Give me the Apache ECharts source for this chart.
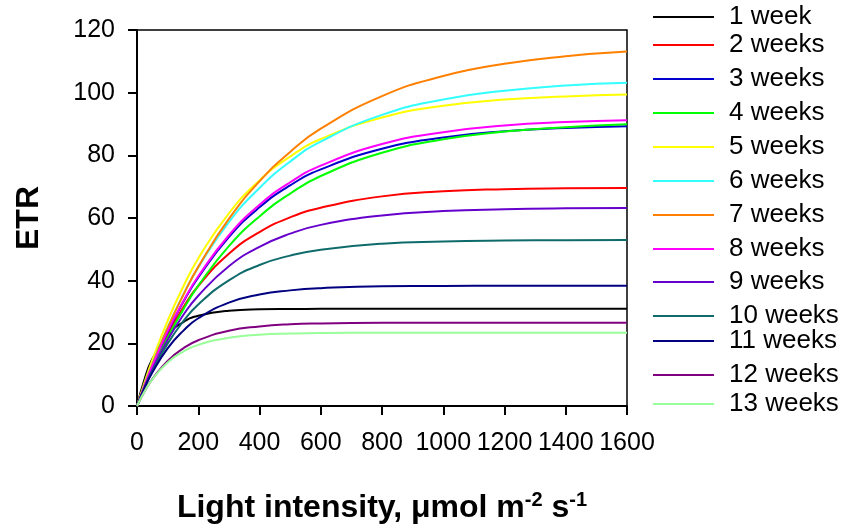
<!DOCTYPE html>
<html>
<head>
<meta charset="utf-8">
<script src="https://cdn.jsdelivr.net/npm/echarts@6/dist/echarts.min.js"></script>
<style>html,body{margin:0;padding:0;background:#fff;}#chart{width:844px;height:528px;}</style>
</head>
<body>
<div id="chart"></div>
<script>
// ---- data ----
const lightIntensity = [0, 25, 50, 100, 150, 200, 300, 400, 500, 600, 800, 1000, 1200, 1400, 1600];
const seriesNames = ['1 week','2 weeks','3 weeks','4 weeks','5 weeks','6 weeks','7 weeks','8 weeks','9 weeks','10 weeks','11 weeks','12 weeks','13 weeks'];
const etrWeek1  = [0, 8.7, 15.0, 22.7, 26.7, 28.8, 30.4, 30.85, 30.96, 31.0, 31.0, 31.0, 31.0, 31.0, 31.0];
const etrWeek2  = [0, 6.6, 12.6, 22.9, 31.3, 38.3, 48.6, 55.5, 60.2, 63.3, 66.9, 68.5, 69.2, 69.5, 69.6];
const etrWeek3  = [0, 6.6, 12.7, 23.6, 33.0, 41.0, 53.9, 63.4, 70.4, 75.5, 82.1, 85.7, 87.7, 88.7, 89.3];
const etrWeek4  = [0, 6.0, 11.6, 21.8, 30.6, 38.4, 51.0, 60.5, 67.8, 73.4, 80.8, 85.1, 87.6, 89.0, 89.9];
const etrWeek5  = [0, 7.6, 14.7, 27.2, 37.9, 47.1, 61.5, 72.0, 79.6, 85.2, 92.1, 95.8, 97.8, 98.8, 99.4];
const etrWeek6  = [0, 6.9, 13.4, 25.1, 35.3, 44.2, 58.7, 69.6, 78.0, 84.4, 92.9, 97.8, 100.6, 102.3, 103.2];
const etrWeek7  = [0, 6.8, 13.2, 24.9, 35.2, 44.4, 59.7, 71.7, 81.1, 88.5, 98.9, 105.3, 109.2, 111.6, 113.1];
const etrWeek8  = [0, 6.6, 12.8, 23.8, 33.2, 41.4, 54.5, 64.2, 71.4, 76.7, 83.6, 87.4, 89.5, 90.6, 91.2];
const etrWeek9  = [0, 6.1, 11.6, 21.1, 28.9, 35.2, 44.6, 50.8, 55.0, 57.8, 60.8, 62.2, 62.8, 63.1, 63.2];
const etrWeek10 = [0, 5.9, 11.1, 19.9, 26.9, 32.4, 40.1, 45.0, 48.0, 49.9, 51.8, 52.5, 52.8, 52.9, 53.0];
const etrWeek11 = [0, 5.8, 10.7, 18.4, 23.9, 28.0, 33.0, 35.6, 36.9, 37.6, 38.2, 38.3, 38.4, 38.4, 38.4];
const etrWeek12 = [0, 4.7, 8.6, 14.4, 18.3, 21.0, 24.0, 25.4, 26.1, 26.35, 26.55, 26.6, 26.6, 26.6, 26.6];
const etrWeek13 = [0, 4.7, 8.5, 13.9, 17.3, 19.5, 21.8, 22.75, 23.1, 23.3, 23.4, 23.4, 23.4, 23.4, 23.4];
const xTickValues = [0, 200, 400, 600, 800, 1000, 1200, 1400, 1600];
const yTickValues = [0, 20, 40, 60, 80, 100, 120];

// ---- styles ----
const allSeries = [etrWeek1, etrWeek2, etrWeek3, etrWeek4, etrWeek5, etrWeek6, etrWeek7, etrWeek8, etrWeek9, etrWeek10, etrWeek11, etrWeek12, etrWeek13];
const colors = ['#000000','#FF0000','#0000CC','#00FF00','#FFFF00','#33FFFF','#FF8000','#FF00FF','#6600CC','#0F6B6B','#000080','#800080','#99FF99'];
const legendCenters = [17, 45, 79, 113, 147, 181, 215, 249, 282, 316, 341, 375, 404];
const FONT = '"Liberation Sans", Arial, sans-serif';

const chart = echarts.init(document.getElementById('chart'), null, {renderer: 'canvas'});

const series = allSeries.map((vals, i) => ({
  name: seriesNames[i],
  type: 'line',
  data: lightIntensity.map((x, j) => [x, vals[j]]),
  smooth: 0.5,
  symbol: 'none',
  lineStyle: {color: colors[i], width: 2},
  itemStyle: {color: colors[i]},
  z: 2
}));

const legends = seriesNames.map((name, i) => ({
  data: [name],
  left: 653,
  top: legendCenters[i] - 14,
  padding: 0,
  icon: 'rect',
  itemWidth: 61,
  itemHeight: 2,
  textStyle: {fontFamily: FONT, fontSize: 26, color: '#000', lineHeight: 28, padding: [0, 0, 0, 10]}
}));

const noComma = v => String(v);

chart.setOption({
  animation: false,
  backgroundColor: '#fff',
  color: colors,
  legend: legends,
  grid: {left: 137, right: 217, top: 30, bottom: 122, containLabel: false, outerBoundsMode: 'none',
         show: true, borderColor: '#000', borderWidth: 1.5, backgroundColor: 'transparent'},
  xAxis: {
    type: 'value', min: xTickValues[0], max: xTickValues[xTickValues.length - 1], interval: 200,
    name: '{b|Light intensity, \u03bcmol m}{s|-2}{b| s}{s|-1}',
    nameLocation: 'middle', nameGap: 84,
    nameTextStyle: {rich: {
      b: {fontFamily: FONT, fontWeight: 'bold', fontSize: 32, color: '#000', verticalAlign: 'bottom', lineHeight: 34},
      s: {fontFamily: FONT, fontWeight: 'bold', fontSize: 20, color: '#000', verticalAlign: 'top', lineHeight: 34, padding: [0, 0, 16, 0]}
    }},
    axisLine: {onZero: false, lineStyle: {color: '#000', width: 2}},
    axisTick: {show: true, inside: false, length: 9, lineStyle: {color: '#000', width: 2}},
    axisLabel: {fontFamily: FONT, fontSize: 25, color: '#000', margin: 25, formatter: noComma, showMinLabel: true, showMaxLabel: true, hideOverlap: false},
    splitLine: {show: false}
  },
  yAxis: {
    type: 'value', min: yTickValues[0], max: yTickValues[yTickValues.length - 1], interval: 20,
    name: 'ETR', nameLocation: 'middle', nameGap: 92, nameRotate: 90,
    nameTextStyle: {fontFamily: FONT, fontWeight: 'bold', fontSize: 32, color: '#000'},
    axisLine: {onZero: false, lineStyle: {color: '#000', width: 2}},
    axisTick: {show: true, inside: false, length: 9, lineStyle: {color: '#000', width: 2}},
    axisLabel: {fontFamily: FONT, fontSize: 25, color: '#000', margin: 22, formatter: noComma, padding: [5, 0, 0, 0]},
    splitLine: {show: false}
  },
  series: series
});
</script>
</body>
</html>
